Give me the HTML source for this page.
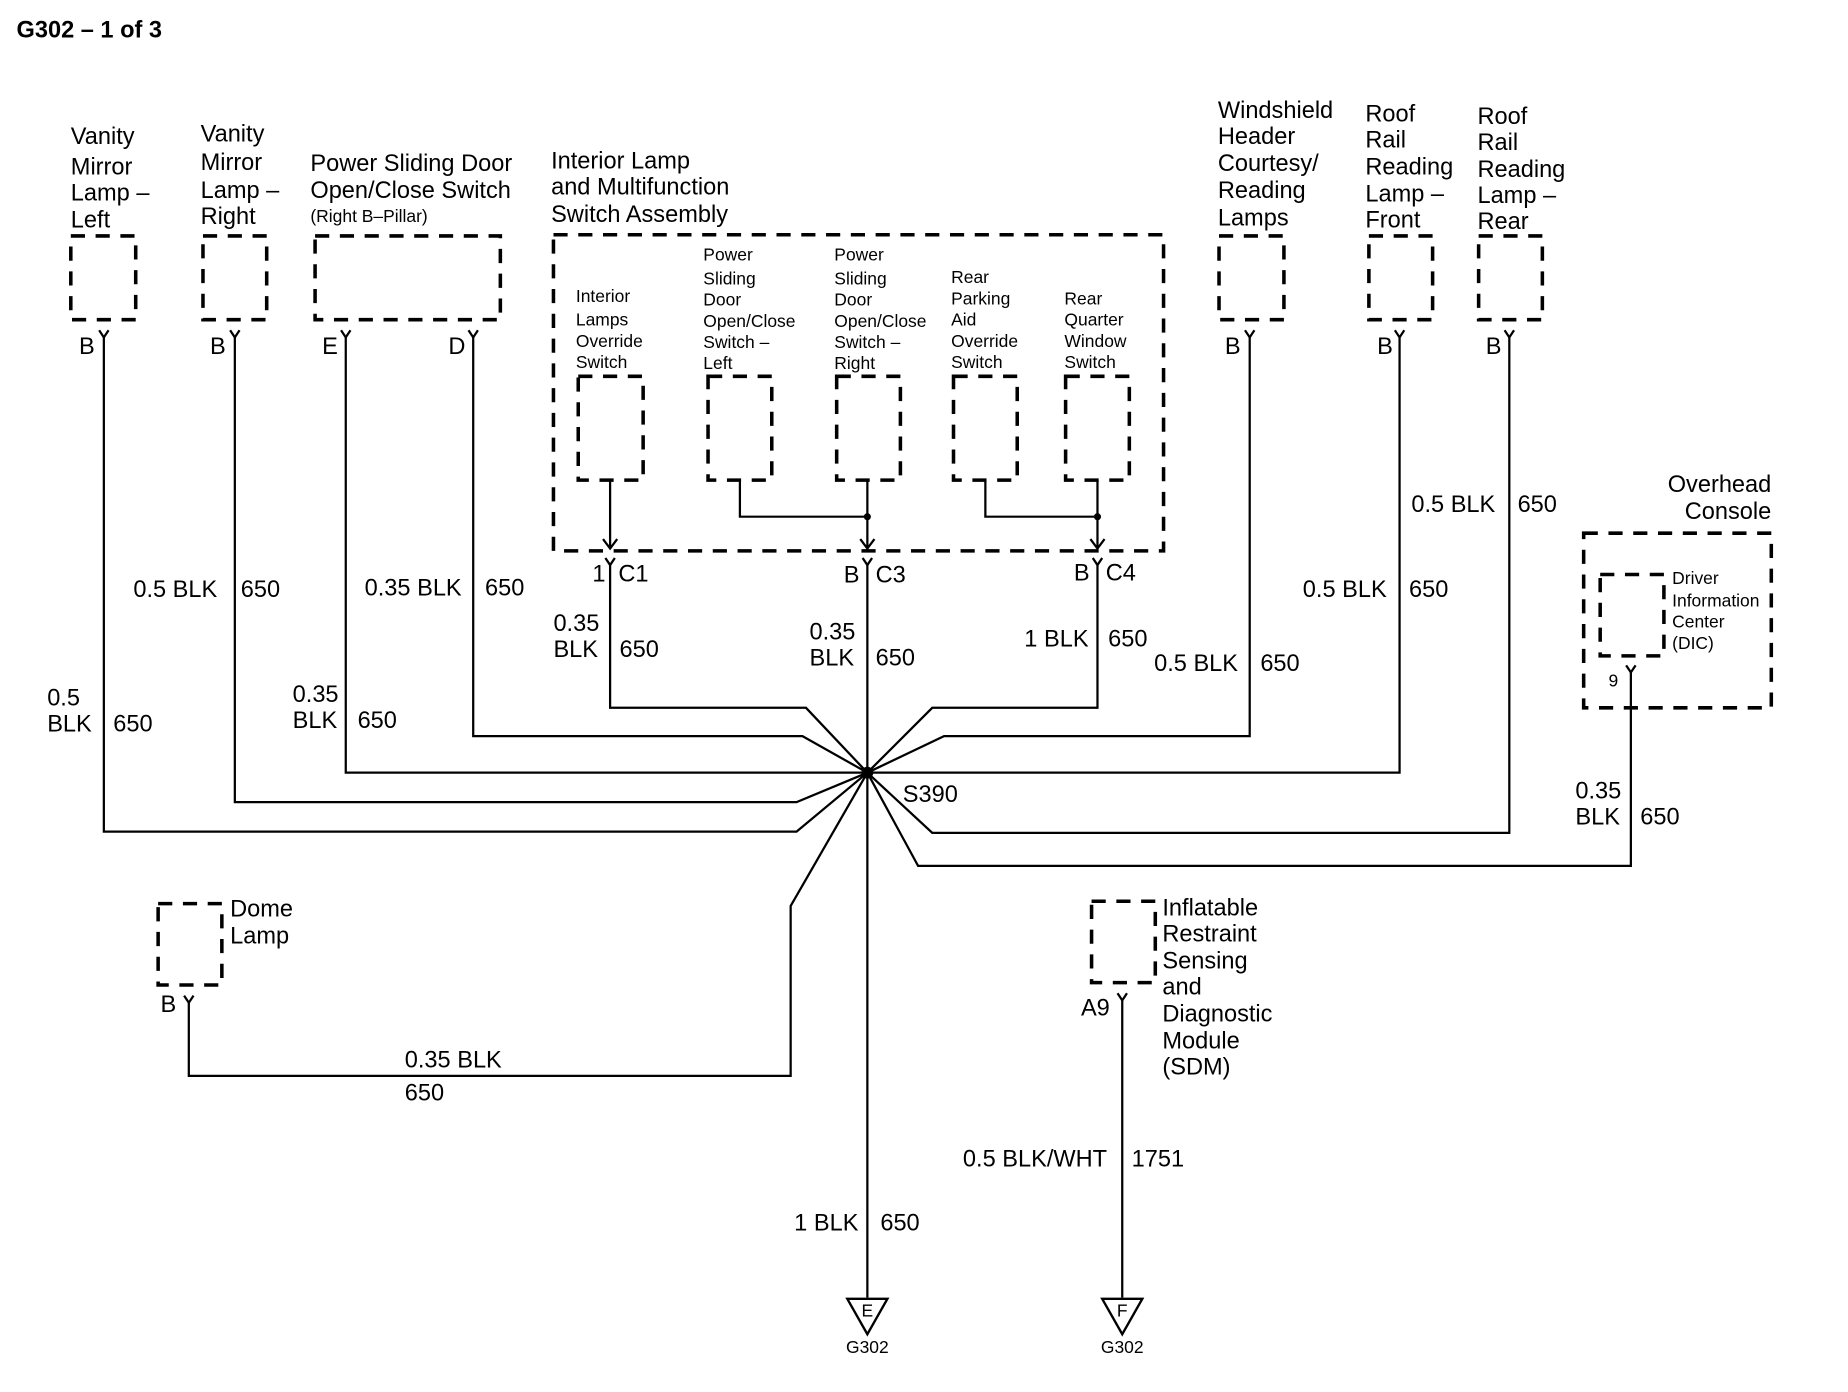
<!DOCTYPE html>
<html><head><meta charset="utf-8"><style>
html,body{margin:0;padding:0;background:#fff}
svg{display:block}
text{font-family:"Liberation Sans",Arial,sans-serif;fill:#000}
.l{font-size:20px}
.s{font-size:14.8px}
.d{fill:none;stroke:#000;stroke-width:3;stroke-dasharray:12,9}
.w{fill:none;stroke:#000;stroke-width:1.9}
</style></head><body>
<svg width="1848" height="1392" viewBox="0 0 1566 1180" preserveAspectRatio="none" xmlns="http://www.w3.org/2000/svg">
<text x="14" y="32" class="l" font-size="19" font-weight="bold">G302 – 1 of 3</text>

<g class="l"><text x="60" y="122">Vanity</text><text x="60" y="148">Mirror</text><text x="60" y="170">Lamp –</text><text x="60" y="193">Left</text></g>
<rect x="60" y="200" width="55" height="71" class="d"/>
<text x="67" y="300" class="l">B</text>
<g class="l"><text x="170" y="120">Vanity</text><text x="170" y="144">Mirror</text><text x="170" y="168">Lamp –</text><text x="170" y="190">Right</text></g>
<rect x="172" y="200" width="54" height="71" class="d"/>
<text x="178" y="300" class="l">B</text>
<g class="l"><text x="263" y="145">Power Sliding Door</text><text x="263" y="168">Open/Close Switch</text></g>
<text x="263" y="188" class="s" font-size="12.5">(Right B–Pillar)</text>
<rect x="267" y="200" width="157" height="71" class="d"/>
<text x="273" y="300" class="l">E</text><text x="380" y="300" class="l">D</text>

<g class="l"><text x="467" y="143">Interior Lamp</text><text x="467" y="165">and Multifunction</text><text x="467" y="188">Switch Assembly</text></g>
<rect x="469" y="199" width="517" height="268" class="d"/>
<g class="s"><text x="488" y="256">Interior</text><text x="488" y="276">Lamps</text><text x="488" y="294">Override</text><text x="488" y="312">Switch</text></g>
<rect x="490" y="319" width="55" height="88" class="d"/>
<g class="s"><text x="596" y="221">Power</text><text x="596" y="241">Sliding</text><text x="596" y="259">Door</text><text x="596" y="277">Open/Close</text><text x="596" y="295">Switch –</text><text x="596" y="313">Left</text></g>
<rect x="600" y="319" width="54" height="88" class="d"/>
<g class="s"><text x="707" y="221">Power</text><text x="707" y="241">Sliding</text><text x="707" y="259">Door</text><text x="707" y="277">Open/Close</text><text x="707" y="295">Switch –</text><text x="707" y="313">Right</text></g>
<rect x="709" y="319" width="54" height="88" class="d"/>
<g class="s"><text x="806" y="240">Rear</text><text x="806" y="258">Parking</text><text x="806" y="276">Aid</text><text x="806" y="294">Override</text><text x="806" y="312">Switch</text></g>
<rect x="808" y="319" width="54" height="88" class="d"/>
<g class="s"><text x="902" y="258">Rear</text><text x="902" y="276">Quarter</text><text x="902" y="294">Window</text><text x="902" y="312">Switch</text></g>
<rect x="903" y="319" width="54" height="88" class="d"/>
<path class="w" d="M517 407V465M511 457L517 465L523 457M627 407V438H735M735 407V465M729 457L735 465L741 457M835 407V438H930M930 407V465M924 457L930 465L936 457"/>
<circle cx="735" cy="438" r="3"/><circle cx="930" cy="438" r="3"/>
<g class="l"><text x="502" y="493">1</text><text x="524" y="493">C1</text><text x="715" y="494">B</text><text x="742" y="494">C3</text><text x="910" y="492">B</text><text x="937" y="492">C4</text></g>

<g class="l"><text x="1032" y="100">Windshield</text><text x="1032" y="122">Header</text><text x="1032" y="145">Courtesy/</text><text x="1032" y="168">Reading</text><text x="1032" y="191">Lamps</text></g>
<rect x="1033" y="200" width="55" height="71" class="d"/>
<text x="1038" y="300" class="l">B</text>
<g class="l"><text x="1157" y="103">Roof</text><text x="1157" y="125">Rail</text><text x="1157" y="148">Reading</text><text x="1157" y="171">Lamp –</text><text x="1157" y="193">Front</text></g>
<rect x="1160" y="200" width="54" height="71" class="d"/>
<text x="1167" y="300" class="l">B</text>
<g class="l"><text x="1252" y="105">Roof</text><text x="1252" y="127">Rail</text><text x="1252" y="150">Reading</text><text x="1252" y="172">Lamp –</text><text x="1252" y="194">Rear</text></g>
<rect x="1253" y="200" width="54" height="71" class="d"/>
<text x="1259" y="300" class="l">B</text>

<g class="l" text-anchor="end"><text x="1501" y="417">Overhead</text><text x="1501" y="440">Console</text></g>
<rect x="1342" y="452" width="159" height="148" class="d"/>
<rect x="1356" y="487" width="54" height="69" class="d"/>
<g class="s" font-size="13.5"><text x="1417" y="495">Driver</text><text x="1417" y="514">Information</text><text x="1417" y="532">Center</text><text x="1417" y="550">(DIC)</text></g>
<text x="1363" y="582" class="s" font-size="12">9</text>

<path class="w" d="M84 280L88 286L92 280M195 280L199 286L203 280M289 280L293 286L297 280M397 280L401 286L405 280M513 473L517 479L521 473M731 473L735 479L739 473M926 473L930 479L934 473M1055 280L1059 286L1063 280M1182 280L1186 286L1190 280M1275 280L1279 286L1283 280M1378 564L1382 570L1386 564M156 844L160 850L164 844M947 842L951 848L955 842"/>

<path class="w" d="M88 286V705H675L735 655M199 286V680H675L735 655M293 286V655H735M401 286V624H680L735 655M517 479V600H683L735 655M735 479V1100M930 479V600H790L735 655M1059 286V624H800L735 655M1186 286V655H735M1279 286V706H790L735 655M1382 570V734H778L735 655M160 850V912H670V768L735 655M951 848V1100"/>
<circle cx="735" cy="655" r="5"/>
<text x="765" y="680" class="l">S390</text>

<g class="l">
<text x="113" y="506">0.5 BLK</text><text x="204" y="506">650</text>
<text x="309" y="505">0.35 BLK</text><text x="411" y="505">650</text>
<text x="40" y="598">0.5</text><text x="40" y="620">BLK</text><text x="96" y="620">650</text>
<text x="248" y="595">0.35</text><text x="248" y="617">BLK</text><text x="303" y="617">650</text>
<text x="469" y="535">0.35</text><text x="469" y="557">BLK</text><text x="525" y="557">650</text>
<text x="686" y="542">0.35</text><text x="686" y="564">BLK</text><text x="742" y="564">650</text>
<text x="868" y="548">1 BLK</text><text x="939" y="548">650</text>
<text x="978" y="569">0.5 BLK</text><text x="1068" y="569">650</text>
<text x="1104" y="506">0.5 BLK</text><text x="1194" y="506">650</text>
<text x="1196" y="434">0.5 BLK</text><text x="1286" y="434">650</text>
<text x="1335" y="677">0.35</text><text x="1335" y="699">BLK</text><text x="1390" y="699">650</text>
<text x="343" y="905">0.35 BLK</text><text x="343" y="933">650</text>
<text x="816" y="989">0.5 BLK/WHT</text><text x="959" y="989">1751</text>
<text x="673" y="1043">1 BLK</text><text x="746" y="1043">650</text>
</g>

<rect x="134" y="766" width="54" height="69" class="d"/>
<g class="l"><text x="195" y="777">Dome</text><text x="195" y="800">Lamp</text><text x="136" y="858">B</text></g>
<rect x="925" y="764" width="54" height="69" class="d"/>
<g class="l"><text x="985" y="776">Inflatable</text><text x="985" y="798">Restraint</text><text x="985" y="821">Sensing</text><text x="985" y="843">and</text><text x="985" y="866">Diagnostic</text><text x="985" y="889">Module</text><text x="985" y="911">(SDM)</text><text x="916" y="861">A9</text></g>

<path d="M718 1101H752L735 1131Z M934 1101H968L951 1131Z" fill="none" stroke="#000" stroke-width="2"/>
<g class="s" font-size="12" text-anchor="middle"><text x="735" y="1116">E</text><text x="951" y="1116">F</text><text x="735" y="1147">G302</text><text x="951" y="1147">G302</text></g>
</svg>
</body></html>
